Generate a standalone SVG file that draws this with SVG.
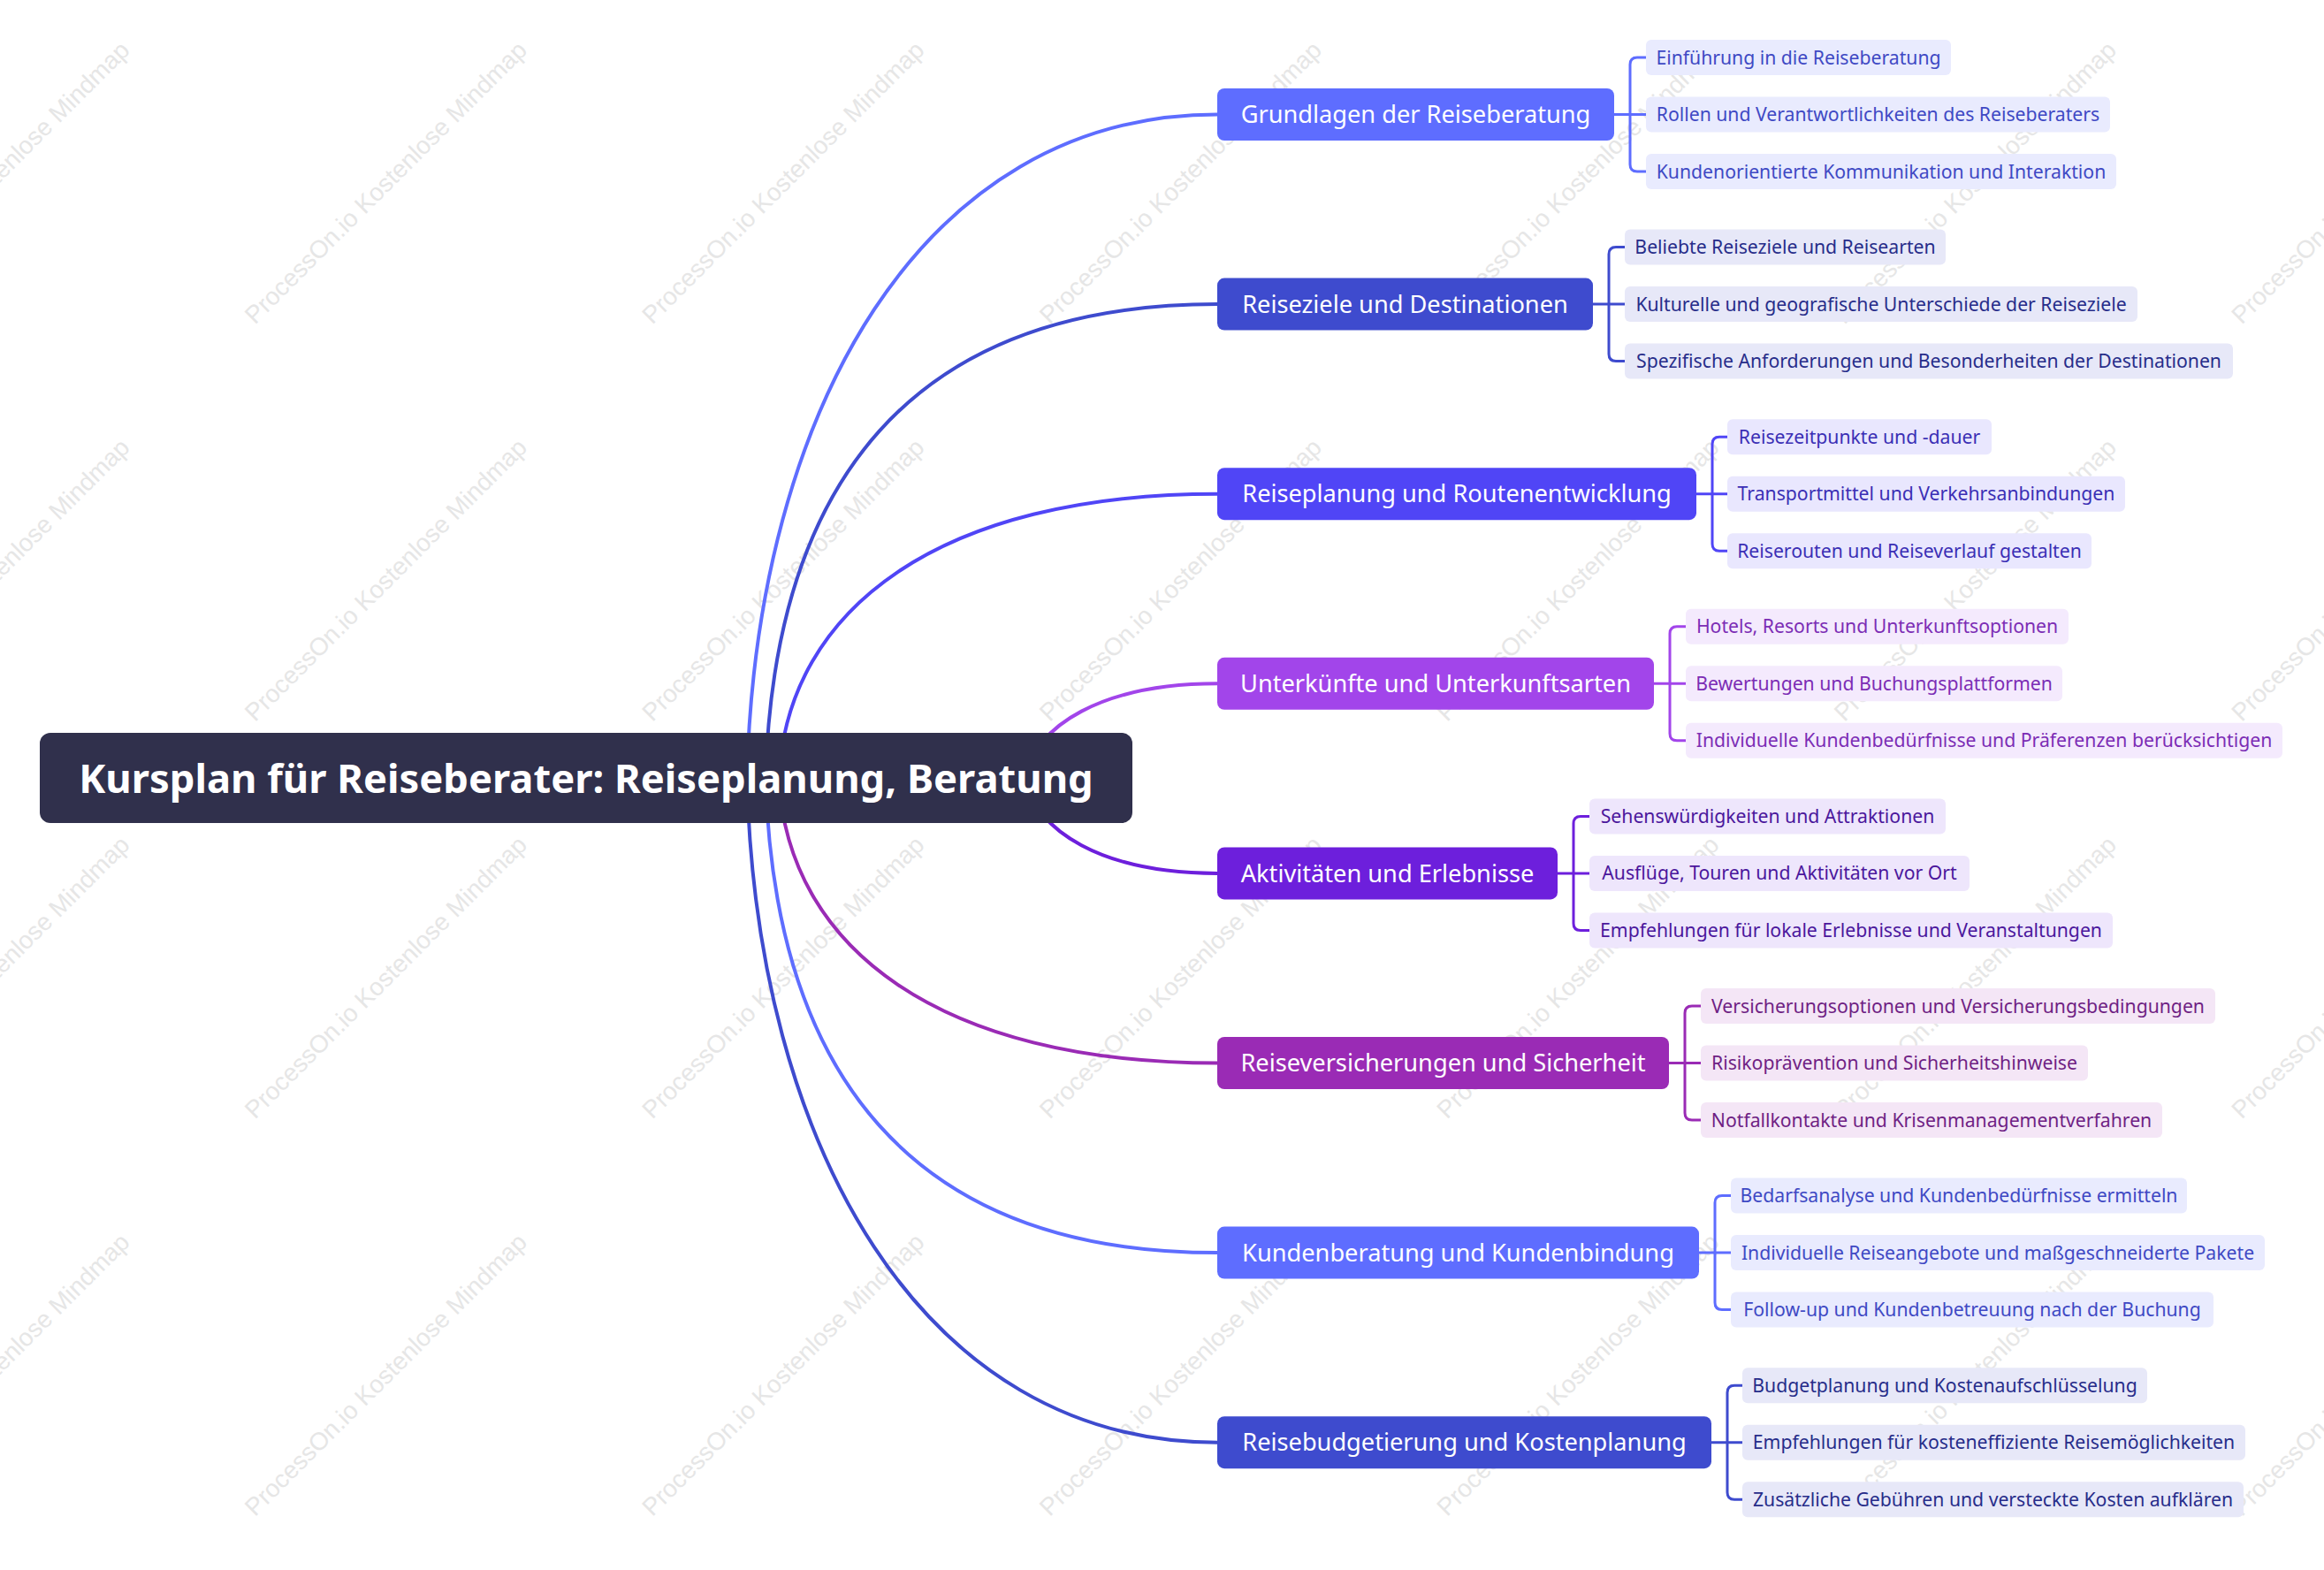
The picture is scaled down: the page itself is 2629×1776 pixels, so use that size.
<svg xmlns="http://www.w3.org/2000/svg" width="2629" height="1776" viewBox="0 0 2629 1776">
<style>
.wm{font-family:"Liberation Sans",Arial,sans-serif;font-size:28px;fill:#e6e6e6;text-anchor:middle}
.conn{fill:none;stroke-width:4;stroke-linecap:round}
.br{fill:none;stroke-width:3}
.root-t{font-family:"Noto Sans","Open Sans",sans-serif;font-weight:700;font-size:45.3px;fill:#ffffff;text-anchor:middle}
.main-t{font-family:"Noto Sans","Open Sans",sans-serif;font-size:27.2px;fill:#ffffff;text-anchor:middle}
.child-t{font-family:"Noto Sans","Open Sans",sans-serif;font-size:21.2px;text-anchor:middle}
.c1{fill:#5E6DFF}.s1{stroke:#5E6DFF}.f1{fill:#E9EBFE}.t1{fill:#3F49C4}
.c2{fill:#3E4BCE}.s2{stroke:#3E4BCE}.f2{fill:#E7E8F8}.t2{fill:#272D8A}
.c3{fill:#5045F6}.s3{stroke:#5045F6}.f3{fill:#E9E7FE}.t3{fill:#3B2FB5}
.c4{fill:#A245EA}.s4{stroke:#A245EA}.f4{fill:#F4EAFD}.t4{fill:#7C2DB5}
.c5{fill:#6D1FDC}.s5{stroke:#6D1FDC}.f5{fill:#EEE6FC}.t5{fill:#4B179C}
.c6{fill:#9A2BB5}.s6{stroke:#9A2BB5}.f6{fill:#F4E6F6}.t6{fill:#6F1F84}
</style>
<rect width="2629" height="1776" fill="#ffffff"/>
<g id="watermarks">
<text class="wm" x="-13.5" y="216" transform="rotate(-45 -13.5 206)">ProcessOn.io Kostenlose Mindmap</text>
<text class="wm" x="436" y="216" transform="rotate(-45 436 206)">ProcessOn.io Kostenlose Mindmap</text>
<text class="wm" x="885.5" y="216" transform="rotate(-45 885.5 206)">ProcessOn.io Kostenlose Mindmap</text>
<text class="wm" x="1335" y="216" transform="rotate(-45 1335 206)">ProcessOn.io Kostenlose Mindmap</text>
<text class="wm" x="1784.5" y="216" transform="rotate(-45 1784.5 206)">ProcessOn.io Kostenlose Mindmap</text>
<text class="wm" x="2234" y="216" transform="rotate(-45 2234 206)">ProcessOn.io Kostenlose Mindmap</text>
<text class="wm" x="2683.5" y="216" transform="rotate(-45 2683.5 206)">ProcessOn.io Kostenlose Mindmap</text>
<text class="wm" x="-13.5" y="665.5" transform="rotate(-45 -13.5 655.5)">ProcessOn.io Kostenlose Mindmap</text>
<text class="wm" x="436" y="665.5" transform="rotate(-45 436 655.5)">ProcessOn.io Kostenlose Mindmap</text>
<text class="wm" x="885.5" y="665.5" transform="rotate(-45 885.5 655.5)">ProcessOn.io Kostenlose Mindmap</text>
<text class="wm" x="1335" y="665.5" transform="rotate(-45 1335 655.5)">ProcessOn.io Kostenlose Mindmap</text>
<text class="wm" x="1784.5" y="665.5" transform="rotate(-45 1784.5 655.5)">ProcessOn.io Kostenlose Mindmap</text>
<text class="wm" x="2234" y="665.5" transform="rotate(-45 2234 655.5)">ProcessOn.io Kostenlose Mindmap</text>
<text class="wm" x="2683.5" y="665.5" transform="rotate(-45 2683.5 655.5)">ProcessOn.io Kostenlose Mindmap</text>
<text class="wm" x="-13.5" y="1115" transform="rotate(-45 -13.5 1105)">ProcessOn.io Kostenlose Mindmap</text>
<text class="wm" x="436" y="1115" transform="rotate(-45 436 1105)">ProcessOn.io Kostenlose Mindmap</text>
<text class="wm" x="885.5" y="1115" transform="rotate(-45 885.5 1105)">ProcessOn.io Kostenlose Mindmap</text>
<text class="wm" x="1335" y="1115" transform="rotate(-45 1335 1105)">ProcessOn.io Kostenlose Mindmap</text>
<text class="wm" x="1784.5" y="1115" transform="rotate(-45 1784.5 1105)">ProcessOn.io Kostenlose Mindmap</text>
<text class="wm" x="2234" y="1115" transform="rotate(-45 2234 1105)">ProcessOn.io Kostenlose Mindmap</text>
<text class="wm" x="2683.5" y="1115" transform="rotate(-45 2683.5 1105)">ProcessOn.io Kostenlose Mindmap</text>
<text class="wm" x="-13.5" y="1564.5" transform="rotate(-45 -13.5 1554.5)">ProcessOn.io Kostenlose Mindmap</text>
<text class="wm" x="436" y="1564.5" transform="rotate(-45 436 1554.5)">ProcessOn.io Kostenlose Mindmap</text>
<text class="wm" x="885.5" y="1564.5" transform="rotate(-45 885.5 1554.5)">ProcessOn.io Kostenlose Mindmap</text>
<text class="wm" x="1335" y="1564.5" transform="rotate(-45 1335 1554.5)">ProcessOn.io Kostenlose Mindmap</text>
<text class="wm" x="1784.5" y="1564.5" transform="rotate(-45 1784.5 1554.5)">ProcessOn.io Kostenlose Mindmap</text>
<text class="wm" x="2234" y="1564.5" transform="rotate(-45 2234 1554.5)">ProcessOn.io Kostenlose Mindmap</text>
<text class="wm" x="2683.5" y="1564.5" transform="rotate(-45 2683.5 1554.5)">ProcessOn.io Kostenlose Mindmap</text>
</g>
<g id="connectors">
<path class="conn s1" d="M845 880C855 467.2 1041.8 129.5 1377 129.5"/>
<path class="conn s2" d="M866 880C876 547.7 1029.5 344.1 1377 344.1"/>
<path class="conn s3" d="M881 880C891 687.2 1064.5 558.7 1377 558.7"/>
<path class="conn s4" d="M1160 880C1170 821.3 1246.8 773.3 1377 773.3"/>
<path class="conn s5" d="M1160 880C1170 939.3 1246.8 987.9 1377 987.9"/>
<path class="conn s6" d="M881 880C891 1073.5 1064.5 1202.5 1377 1202.5"/>
<path class="conn s1" d="M866 880C876 1213 1029.5 1417.1 1377 1417.1"/>
<path class="conn s2" d="M845 880C855 1293.4 1041.8 1631.7 1377 1631.7"/>
<path class="br s1" d="M1826 129.5H1862M1862 65H1852Q1844 65 1844 73V186Q1844 194 1852 194H1862"/>
<path class="br s2" d="M1802 344.1H1838M1838 279.6H1828Q1820 279.6 1820 287.6V400.6Q1820 408.6 1828 408.6H1838"/>
<path class="br s3" d="M1919 558.7H1954M1954 494.2H1945Q1937 494.2 1937 502.2V615.2Q1937 623.2 1945 623.2H1954"/>
<path class="br s4" d="M1871 773.3H1907M1907 708.8H1897Q1889 708.8 1889 716.8V829.8Q1889 837.8 1897 837.8H1907"/>
<path class="br s5" d="M1762 987.9H1798M1798 923.4H1788Q1780 923.4 1780 931.4V1044.4Q1780 1052.4 1788 1052.4H1798"/>
<path class="br s6" d="M1888 1202.5H1924M1924 1138H1914Q1906 1138 1906 1146V1259Q1906 1267 1914 1267H1924"/>
<path class="br s1" d="M1922 1417.1H1958M1958 1352.6H1948Q1940 1352.6 1940 1360.6V1473.6Q1940 1481.6 1948 1481.6H1958"/>
<path class="br s2" d="M1936 1631.7H1971M1971 1567.2H1962Q1954 1567.2 1954 1575.2V1688.2Q1954 1696.2 1962 1696.2H1971"/>
</g>
<g id="root">
<rect x="45" y="829" width="1236" height="102" rx="12" fill="#30304C"/>
<text class="root-t" x="663" y="896.5">Kursplan für Reiseberater: Reiseplanung, Beratung</text>
</g>
<g id="n1">
<rect class="c1" x="1377" y="100" width="449" height="59" rx="8"/>
<text class="main-t" x="1601.5" y="139.2">Grundlagen der Reiseberatung</text>
</g>
<g id="n1-1"><rect class="f1" x="1862" y="45" width="345" height="40" rx="6"/><text class="child-t t1" x="2034.5" y="72.5">Einführung in die Reiseberatung</text></g>
<g id="n1-2"><rect class="f1" x="1862" y="109.5" width="525" height="40" rx="6"/><text class="child-t t1" x="2124.5" y="137">Rollen und Verantwortlichkeiten des Reiseberaters</text></g>
<g id="n1-3"><rect class="f1" x="1862" y="174" width="532" height="40" rx="6"/><text class="child-t t1" x="2128" y="201.5">Kundenorientierte Kommunikation und Interaktion</text></g>
<g id="n2">
<rect class="c2" x="1377" y="314.6" width="425" height="59" rx="8"/>
<text class="main-t" x="1589.5" y="353.8">Reiseziele und Destinationen</text>
</g>
<g id="n2-1"><rect class="f2" x="1838" y="259.6" width="363" height="40" rx="6"/><text class="child-t t2" x="2019.5" y="287.1">Beliebte Reiseziele und Reisearten</text></g>
<g id="n2-2"><rect class="f2" x="1838" y="324.1" width="580" height="40" rx="6"/><text class="child-t t2" x="2128" y="351.6">Kulturelle und geografische Unterschiede der Reiseziele</text></g>
<g id="n2-3"><rect class="f2" x="1838" y="388.6" width="688" height="40" rx="6"/><text class="child-t t2" x="2182" y="416.1">Spezifische Anforderungen und Besonderheiten der Destinationen</text></g>
<g id="n3">
<rect class="c3" x="1377" y="529.2" width="542" height="59" rx="8"/>
<text class="main-t" x="1648" y="568.4">Reiseplanung und Routenentwicklung</text>
</g>
<g id="n3-1"><rect class="f3" x="1954" y="474.2" width="299" height="40" rx="6"/><text class="child-t t3" x="2103.5" y="501.7">Reisezeitpunkte und -dauer</text></g>
<g id="n3-2"><rect class="f3" x="1954" y="538.7" width="450" height="40" rx="6"/><text class="child-t t3" x="2179" y="566.2">Transportmittel und Verkehrsanbindungen</text></g>
<g id="n3-3"><rect class="f3" x="1954" y="603.2" width="412" height="40" rx="6"/><text class="child-t t3" x="2160" y="630.7">Reiserouten und Reiseverlauf gestalten</text></g>
<g id="n4">
<rect class="c4" x="1377" y="743.8" width="494" height="59" rx="8"/>
<text class="main-t" x="1624" y="783">Unterkünfte und Unterkunftsarten</text>
</g>
<g id="n4-1"><rect class="f4" x="1907" y="688.8" width="433" height="40" rx="6"/><text class="child-t t4" x="2123.5" y="716.3">Hotels, Resorts und Unterkunftsoptionen</text></g>
<g id="n4-2"><rect class="f4" x="1907" y="753.3" width="426" height="40" rx="6"/><text class="child-t t4" x="2120" y="780.8">Bewertungen und Buchungsplattformen</text></g>
<g id="n4-3"><rect class="f4" x="1907" y="817.8" width="675" height="40" rx="6"/><text class="child-t t4" x="2244.5" y="845.3">Individuelle Kundenbedürfnisse und Präferenzen berücksichtigen</text></g>
<g id="n5">
<rect class="c5" x="1377" y="958.4" width="385" height="59" rx="8"/>
<text class="main-t" x="1569.5" y="997.6">Aktivitäten und Erlebnisse</text>
</g>
<g id="n5-1"><rect class="f5" x="1798" y="903.4" width="403" height="40" rx="6"/><text class="child-t t5" x="1999.5" y="930.9">Sehenswürdigkeiten und Attraktionen</text></g>
<g id="n5-2"><rect class="f5" x="1798" y="967.9" width="430" height="40" rx="6"/><text class="child-t t5" x="2013" y="995.4">Ausflüge, Touren und Aktivitäten vor Ort</text></g>
<g id="n5-3"><rect class="f5" x="1798" y="1032.4" width="592" height="40" rx="6"/><text class="child-t t5" x="2094" y="1059.9">Empfehlungen für lokale Erlebnisse und Veranstaltungen</text></g>
<g id="n6">
<rect class="c6" x="1377" y="1173" width="511" height="59" rx="8"/>
<text class="main-t" x="1632.5" y="1212.2">Reiseversicherungen und Sicherheit</text>
</g>
<g id="n6-1"><rect class="f6" x="1924" y="1118" width="582" height="40" rx="6"/><text class="child-t t6" x="2215" y="1145.5">Versicherungsoptionen und Versicherungsbedingungen</text></g>
<g id="n6-2"><rect class="f6" x="1924" y="1182.5" width="438" height="40" rx="6"/><text class="child-t t6" x="2143" y="1210">Risikoprävention und Sicherheitshinweise</text></g>
<g id="n6-3"><rect class="f6" x="1924" y="1247" width="522" height="40" rx="6"/><text class="child-t t6" x="2185" y="1274.5">Notfallkontakte und Krisenmanagementverfahren</text></g>
<g id="n7">
<rect class="c1" x="1377" y="1387.6" width="545" height="59" rx="8"/>
<text class="main-t" x="1649.5" y="1426.8">Kundenberatung und Kundenbindung</text>
</g>
<g id="n7-1"><rect class="f1" x="1958" y="1332.6" width="516" height="40" rx="6"/><text class="child-t t1" x="2216" y="1360.1">Bedarfsanalyse und Kundenbedürfnisse ermitteln</text></g>
<g id="n7-2"><rect class="f1" x="1958" y="1397.1" width="604" height="40" rx="6"/><text class="child-t t1" x="2260" y="1424.6">Individuelle Reiseangebote und maßgeschneiderte Pakete</text></g>
<g id="n7-3"><rect class="f1" x="1958" y="1461.6" width="546" height="40" rx="6"/><text class="child-t t1" x="2231" y="1489.1">Follow-up und Kundenbetreuung nach der Buchung</text></g>
<g id="n8">
<rect class="c2" x="1377" y="1602.2" width="559" height="59" rx="8"/>
<text class="main-t" x="1656.5" y="1641.4">Reisebudgetierung und Kostenplanung</text>
</g>
<g id="n8-1"><rect class="f2" x="1971" y="1547.2" width="458" height="40" rx="6"/><text class="child-t t2" x="2200" y="1574.7">Budgetplanung und Kostenaufschlüsselung</text></g>
<g id="n8-2"><rect class="f2" x="1971" y="1611.7" width="569" height="40" rx="6"/><text class="child-t t2" x="2255.5" y="1639.2">Empfehlungen für kosteneffiziente Reisemöglichkeiten</text></g>
<g id="n8-3"><rect class="f2" x="1971" y="1676.2" width="567" height="40" rx="6"/><text class="child-t t2" x="2254.5" y="1703.7">Zusätzliche Gebühren und versteckte Kosten aufklären</text></g>
</svg>
